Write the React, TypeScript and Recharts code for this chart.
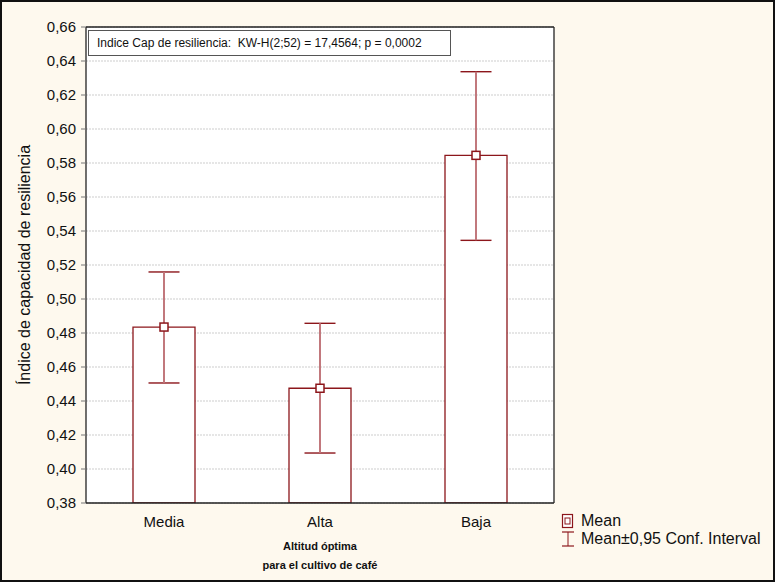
import {
  ComposedChart,
  Bar,
  Line,
  ErrorBar,
  XAxis,
  YAxis,
  CartesianGrid,
} from 'recharts'

// Altitud groups and their resilience index: mean with 95% confidence limits
const categories = ['Media', 'Alta', 'Baja']
const means = [0.4835, 0.4475, 0.5845]
const ciLow = [0.4506, 0.4094, 0.5345]
const ciHigh = [0.5159, 0.4857, 0.6337]
const yTicks = [0.38, 0.4, 0.42, 0.44, 0.46, 0.48, 0.5, 0.52, 0.54, 0.56, 0.58, 0.6, 0.62, 0.64, 0.66]

const statText = 'Indice Cap de resiliencia:  KW-H(2;52) = 17,4564; p = 0,0002'

const data = categories.map((cat, i) => ({
  cat,
  mean: means[i],
  err: [means[i] - ciLow[i], ciHigh[i] - means[i]],
}))

const RED = '#8c161b'
const FONT = '"Liberation Sans", Arial, sans-serif'

const fmt = (v: number) => v.toFixed(2).replace('.', ',')

function MeanSquare(props: any) {
  const { cx, cy } = props
  if (cx == null || cy == null) return null
  return (
    <rect x={cx - 4} y={cy - 4} width={8} height={8} fill="#fff" stroke={RED} strokeWidth={1.5} />
  )
}

function YTitle(props: any) {
  const { viewBox } = props
  const x = viewBox.x + 24
  const y = viewBox.y + viewBox.height / 2
  return (
    <text
      x={x}
      y={y}
      transform={`rotate(-90, ${x}, ${y})`}
      textAnchor="middle"
      dominantBaseline="central"
      fontSize={16}
      fontFamily={FONT}
      fill="#111"
    >
      Índice de capacidad de resiliencia
    </text>
  )
}

function XTitle(props: any) {
  const { viewBox } = props
  const x = viewBox.x + viewBox.width / 2
  return (
    <text textAnchor="middle" fontSize={11} fontWeight="bold" fontFamily={FONT} fill="#111">
      <tspan x={x} y={550}>Altitud óptima</tspan>
      <tspan x={x} y={569}>para el cultivo de café</tspan>
    </text>
  )
}

export default function App() {
  return (
    <div style={{ position: 'relative', width: 775, height: 582, background: '#fef9ee' }}>
      <style>{'body{margin:0}'}</style>
      <ComposedChart
        width={775}
        height={582}
        data={data}
        margin={{ top: 27, right: 221, bottom: 0, left: 0 }}
        style={{ position: 'absolute', left: 0, top: 0 }}
      >
        <CartesianGrid vertical={false} stroke="#cdcdcd" strokeDasharray="2 1" fill="#fff" fillOpacity={1} />
        <XAxis
          dataKey="cat"
          height={79}
          axisLine={{ stroke: '#222', strokeWidth: 1.3 }}
          tickLine={false}
          tickSize={6}
          tickMargin={7}
          tick={{ fontSize: 15, fill: '#111', fontFamily: FONT }}
          label={<XTitle />}
        />
        <XAxis
          xAxisId="bm"
          dataKey="cat"
          orientation="bottom"
          mirror
          tick={false}
          tickSize={4}
          axisLine={false}
          tickLine={{ stroke: '#444' }}
        />
        <XAxis
          xAxisId="top"
          dataKey="cat"
          orientation="top"
          mirror
          tick={false}
          tickSize={4}
          axisLine={{ stroke: '#222', strokeWidth: 1.3 }}
          tickLine={{ stroke: '#444' }}
        />
        <YAxis
          width={86}
          domain={[0.38, 0.66]}
          ticks={yTicks}
          interval={0}
          allowDataOverflow
          tickFormatter={fmt}
          tickSize={5}
          tickMargin={5}
          axisLine={{ stroke: '#222', strokeWidth: 1.3 }}
          tickLine={{ stroke: '#777' }}
          tick={{ fontSize: 15, fill: '#111', fontFamily: FONT }}
          label={<YTitle />}
        />
        <YAxis
          yAxisId="r"
          orientation="right"
          mirror
          domain={[0.38, 0.66]}
          ticks={yTicks}
          interval={0}
          tick={false}
          tickSize={4}
          axisLine={{ stroke: '#222', strokeWidth: 1.3 }}
          tickLine={{ stroke: '#444' }}
        />
        <Bar dataKey="mean" barSize={62} fill="#fff" stroke={RED} strokeWidth={1.3} isAnimationActive={false}>
          <ErrorBar dataKey="err" width={15.5} stroke={RED} strokeWidth={1.4} isAnimationActive={false} />
          <ErrorBar dataKey="err" width={0} stroke="#c47c80" strokeWidth={1.8} isAnimationActive={false} />
        </Bar>
        <Line
          dataKey="mean"
          stroke="none"
          dot={<MeanSquare />}
          activeDot={false}
          isAnimationActive={false}
        />
      </ComposedChart>

      {/* statistic box in the top-left corner of the plot */}
      <div
        style={{
          position: 'absolute',
          left: 88,
          top: 30,
          width: 363,
          height: 26,
          boxSizing: 'border-box',
          border: '1px solid #555',
          background: '#fff',
          fontFamily: FONT,
          fontSize: 12,
          color: '#111',
          lineHeight: '24px',
          paddingLeft: 8,
          whiteSpace: 'pre',
        }}
      >
        {statText}
      </div>

      {/* legend */}
      <div style={{ position: 'absolute', left: 561, top: 512, fontFamily: FONT, fontSize: 16, color: '#111' }}>
        <div style={{ display: 'flex', alignItems: 'center', height: 18 }}>
          <svg width={14} height={16} style={{ marginRight: 6 }}>
            <rect x={1.5} y={1.5} width={10} height={13} fill="#fff" stroke={RED} strokeWidth={1.2} />
            <rect x={4} y={5} width={5} height={6} fill="#fff" stroke={RED} strokeWidth={1} />
          </svg>
          <span>Mean</span>
        </div>
        <div style={{ display: 'flex', alignItems: 'center', height: 18 }}>
          <svg width={14} height={16} style={{ marginRight: 6 }}>
            <line x1={1} y1={1} x2={13} y2={1} stroke={RED} strokeWidth={1.2} />
            <line x1={7} y1={1} x2={7} y2={15} stroke={RED} strokeWidth={1} />
            <line x1={1} y1={15} x2={13} y2={15} stroke={RED} strokeWidth={1.2} />
          </svg>
          <span>Mean±0,95 Conf. Interval</span>
        </div>
      </div>

      {/* outer frame */}
      <div
        style={{
          position: 'absolute',
          left: 0,
          top: 0,
          width: 775,
          height: 582,
          boxSizing: 'border-box',
          border: '2px solid #111',
          pointerEvents: 'none',
        }}
      />
    </div>
  )
}
